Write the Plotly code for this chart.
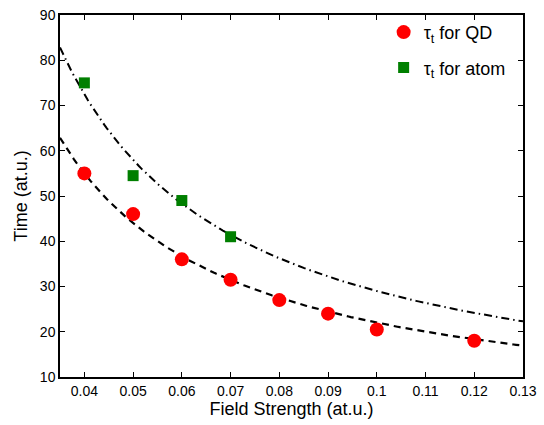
import numpy as np
import plotly.graph_objects as go

# Data
field_qd = [0.04, 0.05, 0.06, 0.07, 0.08, 0.09, 0.10, 0.12]
time_qd = [55, 46, 36, 31.5, 27, 24, 20.5, 18]
field_atom = [0.04, 0.05, 0.06, 0.07]
time_atom = [75, 54.5, 49, 41]
x_ticks = [0.04, 0.05, 0.06, 0.07, 0.08, 0.09, 0.1, 0.11, 0.12, 0.13]
x_tick_labels = ["0.04", "0.05", "0.06", "0.07", "0.08", "0.09", "0.1", "0.11", "0.12", "0.13"]
y_ticks = [10, 20, 30, 40, 50, 60, 70, 80, 90]

# Least-squares a/x fits from the data
def fit_inv(xs, ys):
    xs = np.asarray(xs, float); ys = np.asarray(ys, float)
    return np.sum(ys / xs) / np.sum(1.0 / xs**2)

a_qd = fit_inv(field_qd, time_qd)
a_atom = fit_inv(field_atom, time_atom)
xf = np.linspace(0.035, 0.13, 200)

fig = go.Figure()
fig.add_trace(go.Scatter(x=xf, y=a_qd / xf, mode="lines", showlegend=False,
                         line=dict(color="black", width=2.2, dash="7px,5px")))
fig.add_trace(go.Scatter(x=xf, y=a_atom / xf, mode="lines", showlegend=False,
                         line=dict(color="black", width=2, dash="8px,4px,1.5px,4px")))
fig.add_trace(go.Scatter(x=field_qd, y=time_qd, mode="markers", name="τ<sub>t</sub> for QD",
                         legendgroup="qd",
                         marker=dict(symbol="circle", size=14, color="#ff0000")))
fig.add_trace(go.Scatter(x=field_atom, y=time_atom, mode="markers", name="τ<sub>t</sub> for atom",
                         legendgroup="atom",
                         marker=dict(symbol="square", size=11, color="#007f00")))

axis_common = dict(showgrid=False, zeroline=False, showline=True, linecolor="black", linewidth=1.5,
                   mirror="ticks", ticks="inside", ticklen=5, tickwidth=1, tickcolor="black",
                   tickfont=dict(family="Liberation Sans, Arial", size=14, color="black"))

fig.update_layout(
    width=544, height=425,
    margin=dict(l=60, r=16, t=7, b=48),
    paper_bgcolor="white", plot_bgcolor="white",
    font=dict(family="Liberation Sans, Arial", color="black"),
    xaxis=dict(range=[0.035, 0.13], tickvals=x_ticks, ticktext=x_tick_labels,
               title=dict(text="Field Strength (at.u.)", font=dict(size=18), standoff=4),
               **axis_common),
    yaxis=dict(range=[10, 90], tickvals=y_ticks,
               title=dict(text="Time (at.u.)", font=dict(size=18), standoff=8),
               **axis_common),
    legend=dict(x=0.699, y=1.003, xanchor="left", yanchor="top", bgcolor="rgba(0,0,0,0)",
                font=dict(size=18), traceorder="grouped", tracegroupgap=9, itemsizing="trace"),
)

fig.write_html("out.html")
